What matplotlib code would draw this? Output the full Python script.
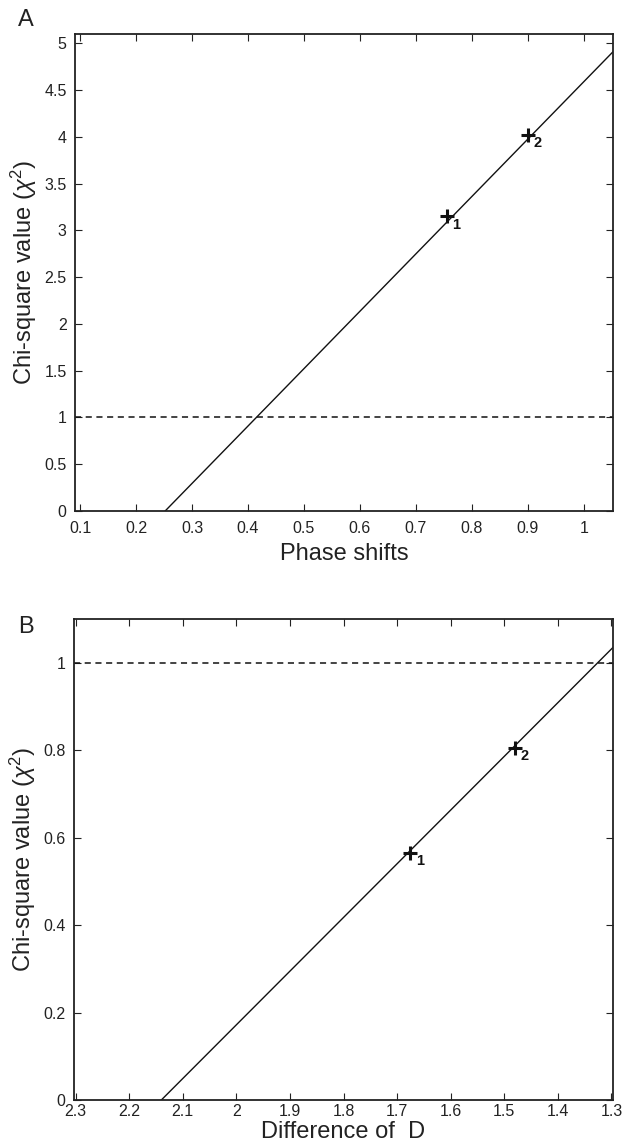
import matplotlib
matplotlib.use("Agg")
import matplotlib.pyplot as plt
from matplotlib.ticker import FuncFormatter

plt.rcParams['font.family'] = ['Liberation Sans', 'DejaVu Sans']
plt.rcParams['mathtext.fontset'] = 'custom'
plt.rcParams['mathtext.rm'] = 'Liberation Sans'
plt.rcParams['mathtext.it'] = 'Liberation Sans:italic'

# ---- Data: panel A ----
a_line_x = [0.252, 1.052]
a_line_y = [0.0, 4.91]
a_pts_x = [0.755, 0.9]
a_pts_y = [3.15, 4.02]
a_pts_lab = ["1", "2"]
a_thresh = 1.0
a_xticks = [0.1, 0.2, 0.3, 0.4, 0.5, 0.6, 0.7, 0.8, 0.9, 1.0]
a_yticks = [0, 0.5, 1, 1.5, 2, 2.5, 3, 3.5, 4, 4.5, 5]

# ---- Data: panel B ----
b_line_x = [2.14, 1.297]
b_line_y = [0.0, 1.035]
b_pts_x = [1.675, 1.48]
b_pts_y = [0.565, 0.805]
b_pts_lab = ["1", "2"]
b_thresh = 1.0
b_xticks = [2.3, 2.2, 2.1, 2.0, 1.9, 1.8, 1.7, 1.6, 1.5, 1.4, 1.3]
b_yticks = [0, 0.2, 0.4, 0.6, 0.8, 1.0]

W, H = 627, 1144
fig = plt.figure(figsize=(W / 100, H / 100), dpi=100)

def px_axes(l, t, r, b):
    return fig.add_axes([l / W, 1 - b / H, (r - l) / W, (b - t) / H])

fmt = FuncFormatter(lambda v, p: ('%g' % round(v, 6)))

def style(ax):
    ax.tick_params(direction='in', top=True, right=True, length=5, width=0.8,
                   labelsize=11.5, colors='#222222')
    ax.tick_params(axis='x', pad=7)
    ax.tick_params(axis='y', pad=6)
    for s in ax.spines.values():
        s.set_linewidth(1.3)
        s.set_color('#222222')
    ax.xaxis.set_major_formatter(fmt)
    ax.yaxis.set_major_formatter(fmt)

ylabel = r'Chi-square value ($\chi^2$)'

# Panel A
axA = px_axes(75, 34, 613, 511)
axA.plot(a_line_x, a_line_y, color='#111111', lw=1.0)
axA.axhline(a_thresh, color='#111111', lw=1.1, ls=(0, (4, 3)))
axA.plot(a_pts_x, a_pts_y, ls='none', marker='+', ms=10, mew=2.2, color='#111111')
for x, y, t in zip(a_pts_x, a_pts_y, a_pts_lab):
    axA.annotate(t, (x, y), xytext=(4, -6), textcoords='offset points',
                 fontsize=10.5, fontweight='bold', va='center', ha='left', color='#111111')
axA.set_xlim(0.091, 1.052)
axA.set_ylim(0, 5.1)
axA.set_xticks(a_xticks)
axA.set_yticks(a_yticks)
style(axA)
axA.set_xlabel('Phase shifts', fontsize=17, labelpad=5, color='#222222')
axA.set_ylabel(ylabel, fontsize=17, labelpad=4, color='#222222')
fig.text(18 / W, 1 - 20 / H, 'A', fontsize=17, va='center', ha='left', color='#222222')

# Panel B
axB = px_axes(74, 619, 613, 1100)
axB.plot(b_line_x, b_line_y, color='#111111', lw=1.0)
axB.axhline(b_thresh, color='#111111', lw=1.1, ls=(0, (4, 3)))
axB.plot(b_pts_x, b_pts_y, ls='none', marker='+', ms=10, mew=2.2, color='#111111')
for x, y, t in zip(b_pts_x, b_pts_y, b_pts_lab):
    axB.annotate(t, (x, y), xytext=(4, -6), textcoords='offset points',
                 fontsize=10.5, fontweight='bold', va='center', ha='left', color='#111111')
axB.set_xlim(2.303, 1.297)
axB.set_ylim(0, 1.1)
axB.set_xticks(b_xticks)
axB.set_yticks(b_yticks)
style(axB)
axB.tick_params(axis='x', pad=3)
axB.set_xlabel('Difference of  D', fontsize=17, labelpad=1, color='#222222')
axB.set_ylabel(ylabel, fontsize=17, labelpad=4, color='#222222')
fig.text(18 / W, 1 - 627 / H, 'B', fontsize=17, va='center', ha='left', color='#222222')

fig.savefig('out.png', dpi=100)
